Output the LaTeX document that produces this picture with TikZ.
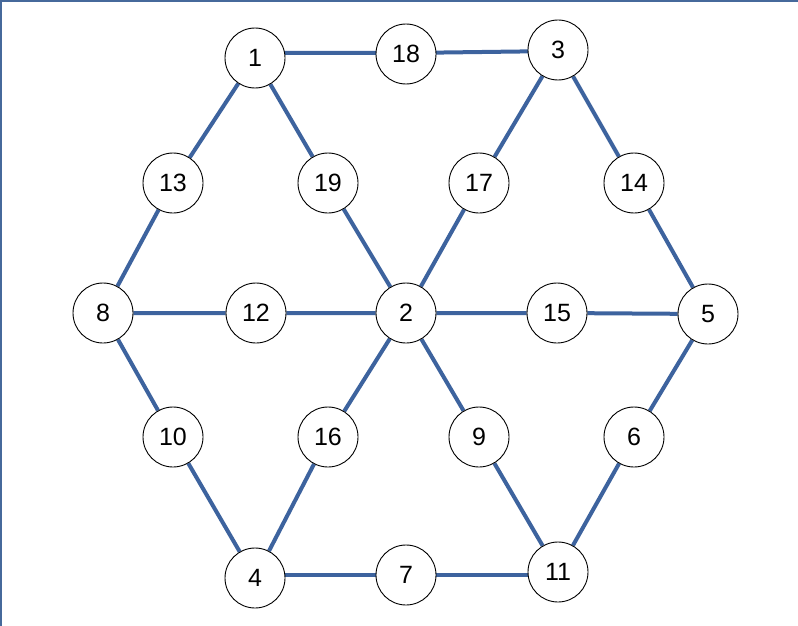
\documentclass[tikz,border=0pt]{standalone}
\usepackage{fontspec}
\setmainfont{Liberation Sans}
\usetikzlibrary{backgrounds}
\definecolor{edgeblue}{RGB}{61,99,158}
\definecolor{frameblue}{RGB}{70,105,155}
\begin{document}
\begin{tikzpicture}[x=1pt,y=-1pt,
  vnode/.style={circle,draw=black,line width=0.9pt,fill=white,minimum size=60pt,inner sep=0pt,font=\fontsize{25}{28}\selectfont},
  edge/.style={draw=edgeblue,line width=4pt}]
\useasboundingbox (0,0) rectangle (798,626);
\draw[frameblue,line width=2pt] (1,626) -- (1,1) -- (798,1);
\node[vnode] (n1) at (255,58) {1};
\node[vnode] (n18) at (406,54) {18};
\node[vnode] (n3) at (558,50) {3};
\node[vnode] (n13) at (173,183) {13};
\node[vnode] (n19) at (328,183) {19};
\node[vnode] (n17) at (479,183) {17};
\node[vnode] (n14) at (634,183) {14};
\node[vnode] (n8) at (103,313) {8};
\node[vnode] (n12) at (256,313) {12};
\node[vnode] (n2) at (406,313) {2};
\node[vnode] (n15) at (557,313) {15};
\node[vnode] (n5) at (708,314) {5};
\node[vnode] (n10) at (173,437) {10};
\node[vnode] (n16) at (328,437) {16};
\node[vnode] (n9) at (479,437) {9};
\node[vnode] (n6) at (634,437) {6};
\node[vnode] (n4) at (255,578) {4};
\node[vnode] (n7) at (406,575) {7};
\node[vnode] (n11) at (558,572) {11};
\begin{scope}[on background layer]
\path[edge] (n1.center |- 0,53) -- (n18.center |- 0,53) -- (n3.center |- 0,51);
\path[edge] (n4.center |- n7.center) -- (n7.center) -- (n11.center |- n7.center);
\path[edge]
  (n1) -- (n13) (n13) -- (n8)
  (n1) -- (n19) (n19) -- (n2)
  (n3) -- (n17) (n17) -- (n2)
  (n3) -- (n14) (n14) -- (n5)
  (n8) -- (n12) (n12) -- (n2)
  (n2) -- (n15) (n15) -- (n5)
  (n8) -- (n10) (n10) -- (n4)
  (n2) -- (n16) (n16) -- (n4)
  (n2) -- (n9) (n9) -- (n11)
  (n5) -- (n6) (n6) -- (n11);
\end{scope}
\end{tikzpicture}
\end{document}
